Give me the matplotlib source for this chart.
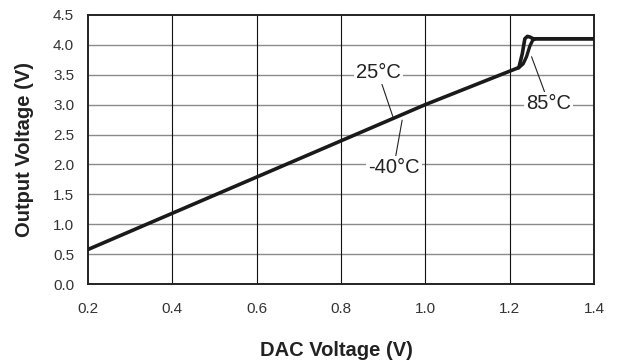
import numpy as np
import matplotlib
matplotlib.use("Agg")
from matplotlib import pyplot as plt

plt.rcParams['font.family'] = ['Liberation Sans', 'DejaVu Sans']

# -40C and 25C curves sit on top of each other
dac_cold = [0.2, 0.6, 1.0, 1.222, 1.230, 1.236, 1.242, 1.248, 1.256, 1.4]
out_cold = [0.58, 1.79, 3.0, 3.62, 3.85, 4.10, 4.14, 4.13, 4.10, 4.10]
# 85C
dac_hot = [1.222, 1.232, 1.240, 1.248, 1.255, 1.262, 1.4]
out_hot = [3.62, 3.68, 3.80, 3.98, 4.08, 4.10, 4.10]

xticks = [0.2, 0.4, 0.6, 0.8, 1.0, 1.2, 1.4]
yticks = [0.0, 0.5, 1.0, 1.5, 2.0, 2.5, 3.0, 3.5, 4.0, 4.5]

fig = plt.figure(figsize=(6.2, 3.62), dpi=100)
ax = fig.add_axes([0.142, 0.215, 0.816, 0.744])

for yv in yticks[1:-1]:
    ax.axhline(yv, color='#8a8a8a', lw=1.0, zorder=1)
for xv in xticks[1:-1]:
    ax.axvline(xv, color='#111111', lw=0.8, zorder=1)

ax.plot(dac_hot, out_hot, color='#1a1a1a', lw=2.4, zorder=3, solid_joinstyle='round')
ax.plot(dac_cold, out_cold, color='#1a1a1a', lw=2.6, zorder=3, solid_joinstyle='round')

box = dict(facecolor='white', edgecolor='none', pad=1.5)
lp = dict(arrowstyle='-', color='#222222', lw=0.8, shrinkA=0, shrinkB=0)
ax.annotate('25°C', xy=(0.923, 2.80), xytext=(0.888, 3.53), fontsize=14.5,
            ha='center', va='center', bbox=box, arrowprops=lp, zorder=4,
            color='#222222')
ax.annotate('-40°C', xy=(0.945, 2.74), xytext=(0.925, 1.95), fontsize=14.5,
            ha='center', va='center', bbox=box, arrowprops=lp, zorder=4,
            color='#222222')
ax.annotate('85°C', xy=(1.252, 3.80), xytext=(1.293, 3.02), fontsize=14.5,
            ha='center', va='center', bbox=box, arrowprops=lp, zorder=4,
            color='#222222')

ax.set_xlim(0.2, 1.4)
ax.set_ylim(0, 4.5)
ax.set_xticks(xticks)
ax.set_yticks(yticks)
ax.set_xticklabels(['%.1f' % v for v in xticks])
ax.set_yticklabels(['%.1f' % v for v in yticks])
ax.tick_params(length=0, labelsize=11, colors='#333333')
ax.tick_params(axis='x', pad=13)
ax.tick_params(axis='y', pad=10)
for s in ax.spines.values():
    s.set_linewidth(1.4)
    s.set_color('#222222')

ax.set_xlabel('DAC Voltage (V)', fontsize=14.5, fontweight='bold', va='center',
              color='#222222')
ax.set_ylabel('Output Voltage (V)', fontsize=14.5, fontweight='bold', va='center',
              color='#222222')
ax.xaxis.set_label_coords(0.49, -0.245)
ax.yaxis.set_label_coords(-0.126, 0.5)

fig.savefig('out.png', dpi=100)
